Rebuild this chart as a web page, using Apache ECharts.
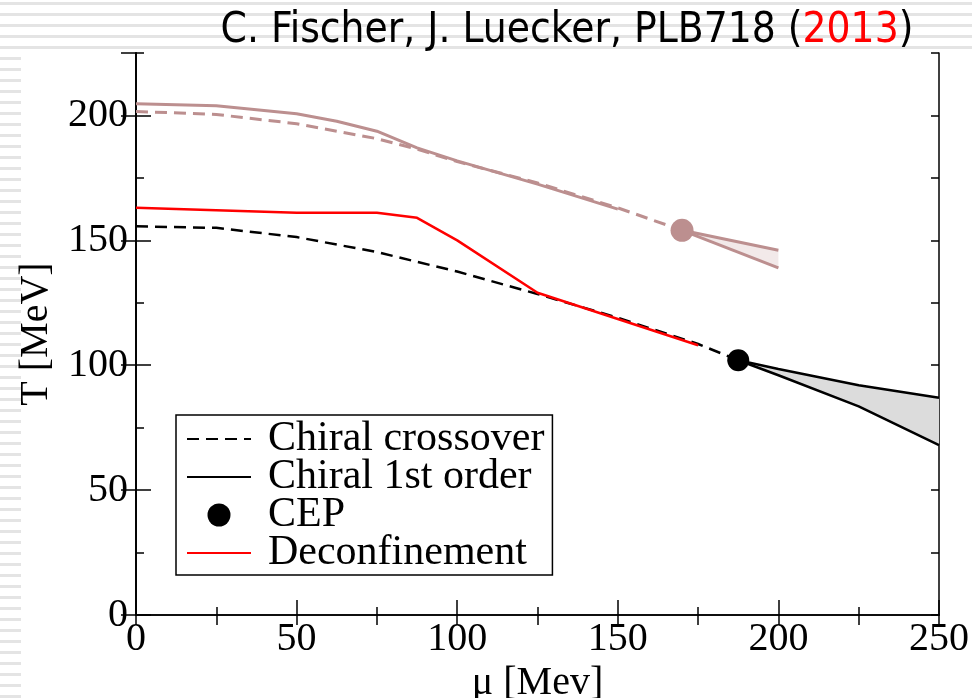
<!DOCTYPE html>
<html>
<head>
<meta charset="utf-8">
<script src="https://cdn.jsdelivr.net/npm/echarts@6/dist/echarts.min.js"></script>
<style>
  html, body { margin: 0; padding: 0; background: #fff; }
  #chart {
    width: 972px; height: 698px;
    background-image:
      repeating-linear-gradient(to bottom, transparent 0 2px, #e4e4e4 2px 5px, transparent 5px 11px),
      repeating-linear-gradient(to bottom, transparent 0 2px, #e4e4e4 2px 5px, transparent 5px 11px);
    background-size: 972px 50px, 21px 698px;
    background-position: 0 0, 0 0;
    background-repeat: no-repeat;
  }
</style>
</head>
<body>
<div id="chart"></div>
<script>
// chiral crossover (black dashed)
const crossMu = [0, 25, 50, 75, 100, 125, 150, 175, 187.5];
const crossT = [155.6, 155, 151.3, 145.3, 137.5, 128.5, 119, 108.5, 102];
// deconfinement (red)
const deconfMu = [0, 25, 50, 75, 87.5, 100, 125, 150, 175];
const deconfT = [163, 162, 161, 161, 159, 150, 129, 118.5, 108];
// critical end point
const cepMu = 187.5;
const cepT = 102;
// first order band
const firstMu = [187.5, 200, 225, 250];
const firstUpperT = [102, 98.5, 92, 87];
const firstLowerT = [102, 96, 83.5, 68];

// second model (rosy)
const rSolidMu = [0, 25, 50, 62.5, 75, 87.5, 100, 125, 150];
const rSolidT = [204.7, 203.9, 200.7, 197.7, 193.7, 187, 181.8, 172.5, 162.5];
const rDashMu = [0, 25, 50, 75, 87.5, 100, 125, 150, 170];
const rDashT = [201.6, 200.4, 196.7, 190.7, 186.5, 181.5, 173, 163, 154];
const rCepMu = 170;
const rCepT = 154;
const rFirstMu = [170, 200];
const rUpperT = [154, 146];
const rLowerT = [154, 139];

const xTicks = [0, 50, 100, 150, 200, 250];
const yTicks = [0, 50, 100, 150, 200];

const zip = (xs, ys) => xs.map((x, i) => [x, ys[i]]);

const rosy = '#bc8f8f';
const serif = 'Liberation Serif';

const lineSeries = (name, xs, ys, color, width, type, z) => ({
  name,
  type: 'line',
  data: zip(xs, ys),
  symbol: 'none',
  lineStyle: { color, width, type },
  itemStyle: { color },
  z: z || 3,
});

// filled region between two curves, drawn through the axis scales
const bandSeries = (name, xs, lower, upper, fill) => ({
  name,
  type: 'custom',
  silent: true,
  z: 1,
  data: [0],
  renderItem: (params, api) => {
    const top = xs.map((x, i) => api.coord([x, upper[i]]));
    const bottom = xs.map((x, i) => api.coord([x, lower[i]])).reverse();
    return {
      type: 'polygon',
      shape: { points: top.concat(bottom) },
      style: { fill },
    };
  },
});

const axisBase = {
  type: 'value',
  axisLine: { show: true, lineStyle: { color: '#000', width: 1.5 } },
  splitLine: { show: false },
};

const chart = echarts.init(document.getElementById('chart'));
chart.setOption({
  animation: false,
  title: {
    text: '{a|C. Fischer, J. Luecker, PLB718 (}{r|2013}{a|)}',
    left: 562,
    top: 5,
    textAlign: 'center',
    textStyle: {
      fontWeight: 'normal',
      rich: {
        a: { fontFamily: 'DejaVu Sans Condensed', fontWeight: 'normal', fontSize: 42, color: '#000' },
        r: { fontFamily: 'DejaVu Sans Condensed', fontWeight: 'normal', fontSize: 42, color: '#ff0000' },
      },
    },
  },
  grid: { left: 136, right: 33, top: 53, bottom: 83, containLabel: false, outerBoundsMode: 'none' },
  legend: {
    orient: 'vertical',
    left: 176,
    top: 415,
    itemWidth: 64,
    itemHeight: 23,
    itemGap: -4,
    padding: [3, 8, 1, 10],
    borderColor: '#000',
    borderWidth: 1.5,
    backgroundColor: '#fff',
    selectedMode: false,
    itemStyle: { opacity: 0 },
    textStyle: { fontFamily: serif, fontSize: 42, color: '#000', padding: [0, 0, 0, 12] },
    data: [
      { name: 'Chiral crossover' },
      { name: 'Chiral 1st order' },
      { name: 'CEP', icon: 'circle', itemStyle: { opacity: 1, color: '#000' } },
      { name: 'Deconfinement' },
    ],
  },
  xAxis: [
    {
      ...axisBase,
      position: 'bottom',
      min: 0,
      max: 250,
      interval: 50,
      name: 'μ [Mev]',
      nameLocation: 'middle',
      nameGap: 38,
      nameTextStyle: { fontFamily: serif, fontSize: 40, color: '#000' },
      axisTick: { inside: true, length: 15, lineStyle: { color: '#000', width: 1.5 } },
      minorTick: { show: true, splitNumber: 2, length: 8, lineStyle: { color: '#000', width: 1.5 } },
      axisLabel: {
        fontFamily: serif, fontSize: 40, color: '#000', margin: 4,
        formatter: (v) => (xTicks.includes(v) ? String(v) : ''),
      },
    },
    {
      ...axisBase,
      position: 'top',
      min: 0,
      max: 250,
      interval: 25,
      axisTick: { inside: true, length: 10, lineStyle: { color: '#000', width: 1.5 } },
      axisLabel: { show: false },
    },
  ],
  yAxis: [
    {
      ...axisBase,
      position: 'left',
      min: 0,
      max: 225,
      interval: 50,
      name: 'T [MeV]',
      nameLocation: 'middle',
      nameGap: 80,
      nameTextStyle: { fontFamily: serif, fontSize: 40, color: '#000' },
      axisTick: { inside: true, length: 15, lineStyle: { color: '#000', width: 1.5 } },
      axisLabel: {
        fontFamily: serif, fontSize: 40, color: '#000', margin: 8, showMaxLabel: false,
        formatter: (v) => (yTicks.includes(v) ? String(v) : ''),
      },
    },
    {
      ...axisBase,
      position: 'right',
      min: 0,
      max: 225,
      interval: 50,
      axisTick: { inside: true, length: 15, lineStyle: { color: '#000', width: 1.5 } },
      axisLabel: { show: false },
    },
    {
      ...axisBase,
      position: 'left',
      min: 0,
      max: 225,
      interval: 25,
      axisTick: { inside: true, length: 8, lineStyle: { color: '#000', width: 1.5 } },
      axisLabel: { show: false },
    },
    {
      ...axisBase,
      position: 'right',
      min: 0,
      max: 225,
      interval: 25,
      axisTick: { inside: true, length: 8, lineStyle: { color: '#000', width: 1.5 } },
      axisLabel: { show: false },
    },
  ],
  series: [
    bandSeries('rband', rFirstMu, rLowerT, rUpperT, 'rgba(188,143,143,0.2)'),
    bandSeries('band', firstMu, firstLowerT, firstUpperT, '#dcdcdc'),
    lineSeries('rosy-solid', rSolidMu, rSolidT, rosy, 3, 'solid'),
    lineSeries('rosy-dash', rDashMu, rDashT, rosy, 3, [12, 7]),
    lineSeries('rosy-upper', rFirstMu, rUpperT, rosy, 3, 'solid'),
    lineSeries('rosy-lower', rFirstMu, rLowerT, rosy, 3, 'solid'),
    lineSeries('Chiral crossover', crossMu, crossT, '#000', 2.5, [12, 7]),
    lineSeries('Chiral 1st order', firstMu, firstUpperT, '#000', 2.5, 'solid'),
    lineSeries('first-lower', firstMu, firstLowerT, '#000', 2.5, 'solid'),
    lineSeries('Deconfinement', deconfMu, deconfT, '#ff0000', 2.5, 'solid', 4),
    {
      name: 'rosy-cep',
      type: 'scatter',
      data: [[rCepMu, rCepT]],
      symbol: 'circle',
      symbolSize: 23,
      itemStyle: { color: rosy, opacity: 1 },
      z: 5,
    },
    {
      name: 'CEP',
      type: 'scatter',
      data: [[cepMu, cepT]],
      symbol: 'circle',
      symbolSize: 22,
      itemStyle: { color: '#000', opacity: 1 },
      z: 5,
    },
  ],
});
</script>
</body>
</html>
